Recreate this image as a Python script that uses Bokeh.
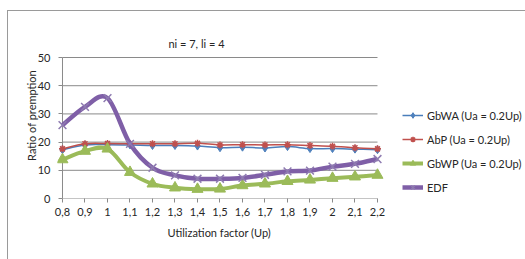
import numpy as np
from bokeh.plotting import figure
from bokeh.models import Range1d, FixedTicker, Label, Legend, LegendItem, Title
from bokeh.embed import file_html
from bokeh.resources import INLINE

# ---------------- data ----------------
util = [0.8, 0.9, 1.0, 1.1, 1.2, 1.3, 1.4, 1.5, 1.6, 1.7, 1.8, 1.9, 2.0, 2.1, 2.2]
util_labels = ["0,8", "0,9", "1", "1,1", "1,2", "1,3", "1,4", "1,5", "1,6", "1,7",
               "1,8", "1,9", "2", "2,1", "2,2"]
gbwa = [17.3, 19.0, 19.1, 19.0, 18.8, 18.8, 18.6, 18.0, 18.2, 17.9, 18.4, 17.7, 17.7, 17.5, 17.3]
abp = [17.6, 19.4, 19.5, 19.4, 19.4, 19.4, 19.6, 19.0, 19.1, 19.0, 19.1, 18.8, 18.5, 18.0, 17.6]
gbwp = [13.8, 16.8, 17.6, 9.3, 5.2, 3.8, 3.3, 3.4, 4.6, 5.2, 6.1, 6.6, 7.2, 7.7, 8.3]
edf = [26.0, 32.5, 35.6, 19.4, 10.9, 8.2, 7.0, 7.0, 7.3, 8.4, 9.6, 9.9, 11.3, 12.3, 14.0]
y_ticks = [0, 10, 20, 30, 40, 50]
series_names = ["GbWA (Ua = 0.2Up)", "AbP (Ua = 0.2Up)", "GbWP (Ua = 0.2Up)", "EDF"]
title_text = "ni = 7, li = 4"
x_title = "Utilization factor (Up)"
y_title = "Ratio of premption"

FONT = "Lato"
TXT = "#262626"
GRID = "#8a8a8a"
BORDER = "#9a9a9a"

W, H = 525, 259
p = figure(width=W, height=H, output_backend="svg", toolbar_location=None,
           min_border_left=57, min_border_right=0, min_border_top=32, min_border_bottom=61)
p.x_range = Range1d(0.7778, 2.8578)
p.y_range = Range1d(0, 58.87)
p.outline_line_color = None
p.background_fill_alpha = 0
p.border_fill_alpha = 0
p.styles = {
    "background": (f"linear-gradient({BORDER},{BORDER}) 7px 10px / 1px 100% no-repeat, "
                   f"linear-gradient({BORDER},{BORDER}) 7px 10px / 100% 1px no-repeat, white"),
}

p.xgrid.visible = False
p.ygrid.visible = False

for ax in (p.xaxis[0], p.yaxis[0]):
    ax.axis_line_color = None
    ax.major_tick_line_color = GRID
    ax.minor_tick_line_color = None
    ax.major_label_text_font = FONT
    ax.major_label_text_font_size = "11px"
    ax.major_label_text_color = TXT
p.xaxis.ticker = FixedTicker(ticks=util)
p.xaxis.major_label_overrides = dict(zip(util, util_labels))
p.xaxis.major_tick_in = 0
p.xaxis.major_tick_out = 4
p.xaxis.major_label_standoff = 5
p.yaxis.ticker = FixedTicker(ticks=y_ticks)
p.yaxis.major_tick_in = 5
p.yaxis.major_tick_out = -1
p.yaxis.major_label_standoff = 7
p.yaxis.axis_label = y_title
p.yaxis.axis_label_text_font = FONT
p.yaxis.axis_label_text_font_size = "11px"
p.yaxis.axis_label_text_font_style = "normal"
p.yaxis.axis_label_text_color = TXT
p.yaxis.axis_label_standoff = -3

# gridlines and axis lines drawn between first and last category
p.segment(x0=[util[0]] * (len(y_ticks) - 1), x1=[util[-1]] * (len(y_ticks) - 1),
          y0=y_ticks[1:], y1=y_ticks[1:], line_color=GRID, line_width=1)
p.segment(x0=[util[0]], x1=[util[-1]], y0=[y_ticks[0]], y1=[y_ticks[0]],
          line_color=GRID, line_width=1)
p.segment(x0=[util[0]], x1=[util[0]], y0=[y_ticks[0]], y1=[y_ticks[-1]],
          line_color=GRID, line_width=1)


def bez(xs, ys):
    x = np.asarray(xs, float)
    y = np.asarray(ys, float)
    n = len(x)
    xp = np.concatenate([[x[0]], x, [x[-1]]])
    yp = np.concatenate([[y[0]], y, [y[-1]]])
    return dict(
        x0=xp[1:n], y0=yp[1:n], x1=xp[2:n + 1], y1=yp[2:n + 1],
        cx0=xp[1:n] + (xp[2:n + 1] - xp[0:n - 1]) / 6,
        cy0=yp[1:n] + (yp[2:n + 1] - yp[0:n - 1]) / 6,
        cx1=xp[2:n + 1] - (xp[3:n + 2] - xp[1:n]) / 6,
        cy1=yp[2:n + 1] - (yp[3:n + 2] - yp[1:n]) / 6,
    )


items = []
specs = [
    (gbwa, "#4A7EBB", 1.5, "diamond", 8, "#4F81BD", "#4F81BD", 1),
    (abp, "#C0504D", 1.5, "asterisk", 7, "#C0504D", "#C0504D", 1.5),
    (gbwp, "#9BBB59", 4, "triangle", 11, "#9BBB59", "#9BBB59", 1),
    (edf, "#7F5FA7", 4.5, "x", 11, None, "#8E7BB0", 1.5),
]
for name, (ys, col, lw, mk, ms, fill, mline, mlw) in zip(series_names, specs):
    b = bez(util, ys)
    r1 = p.bezier(x0=b["x0"], y0=b["y0"], x1=b["x1"], y1=b["y1"],
                  cx0=b["cx0"], cy0=b["cy0"], cx1=b["cx1"], cy1=b["cy1"],
                  line_color=col, line_width=lw)
    r2 = p.scatter(util, ys, marker=mk, size=ms, fill_color=fill, line_color=mline,
                   line_width=mlw)
    items.append(LegendItem(label=name, renderers=[r1, r2]))

legend = Legend(items=items, location=(345, 4), orientation="vertical",
                border_line_color=None, background_fill_alpha=0,
                glyph_width=21, glyph_height=14, spacing=10, padding=0, margin=0,
                label_standoff=4, label_text_font=FONT, label_text_font_size="11px",
                label_text_color=TXT, label_height=14)
p.add_layout(legend, "center")

p.add_layout(Label(x=139, y=155, x_units="screen", y_units="screen", text=title_text,
                   text_font=FONT, text_font_size="11px", text_color=TXT,
                   text_align="center", text_baseline="middle"))

p.add_layout(Title(text=x_title, align="left", offset=110, standoff=10,
                   text_font=FONT, text_font_size="11px", text_font_style="normal",
                   text_color=TXT), "below")

open("out.html", "w").write(file_html(p, INLINE))
